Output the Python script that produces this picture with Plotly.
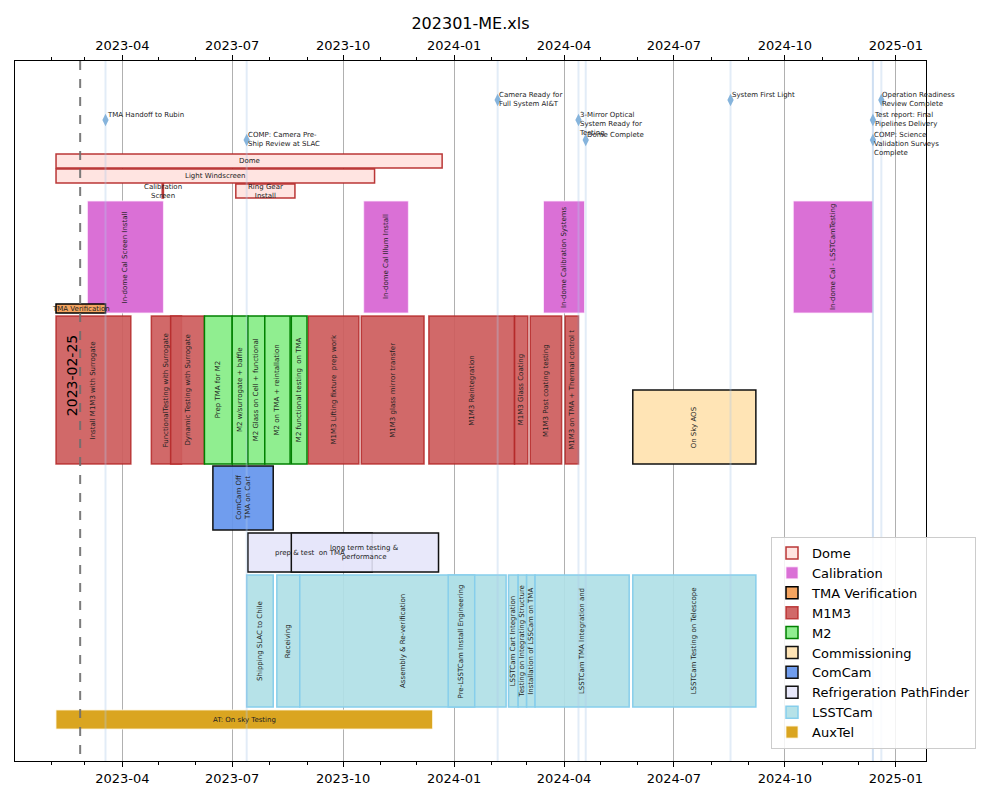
import pandas as pd
import plotly.graph_objects as go

# ---------------- data ----------------
categories = ["Dome", "Calibration", "TMA Verification", "M1M3", "M2",
              "Commissioning", "ComCam", "Refrigeration PathFinder", "LSSTCam", "AuxTel"]

dome_names = ["Dome", "Light Windscreen", "Calibration<br>Screen", "Ring Gear<br>Install"]
dome_start = ["2023-02-05", "2023-02-05", "2023-05-04", "2023-07-04"]
dome_end = ["2023-12-22", "2023-10-27", "2023-05-05", "2023-08-22"]
dome_lane = ["dome1", "dome2", "dome3", "dome3"]

cal_names = ["In-dome Cal Screen Install", "In-dome Cal Illum Install",
             "In-dome Calibration Systems", "In-dome Cal - LSSTCamTesting"]
cal_start = ["2023-03-03", "2023-10-18", "2024-03-15", "2024-10-08"]
cal_end = ["2023-05-05", "2023-11-24", "2024-04-18", "2024-12-13"]
cal_lane = ["cal", "cal", "cal", "cal"]

tma_names = ["TMA Verification"]
tma_start = ["2023-02-05"]
tma_end = ["2023-03-18"]
tma_lane = ["tma"]

m1m3_names = ["Install M1M3 with Surrogate", "FunctionalTesting with Surrogate",
              "Dynamic Testing with Surrogate", "M1M3 Lifting fixture  prep work",
              "M1M3 glass mirror transfer", "M1M3 Reintegration", "M1M3 Glass Coating",
              "M1M3 Post coating testing", "M1M3 on TMA + Thermal control t"]
m1m3_start = ["2023-02-05", "2023-04-25", "2023-05-11", "2023-09-02", "2023-10-16",
              "2023-12-11", "2024-02-20", "2024-03-04", "2024-04-02"]
m1m3_end = ["2023-04-08", "2023-05-20", "2023-06-08", "2023-10-14", "2023-12-07",
            "2024-02-20", "2024-03-02", "2024-03-30", "2024-04-13"]
m1m3_lane = ["main"] * 9

m2_names = ["Prep TMA for M2", "M2 w/surrogate + baffle", "M2 Glass on Cell + functional",
            "M2 on TMA + reintallation", "M2 functional testing  on TMA"]
m2_start = ["2023-06-08", "2023-07-01", "2023-07-14", "2023-07-28", "2023-08-19"]
m2_end = ["2023-07-01", "2023-07-14", "2023-07-28", "2023-08-18", "2023-09-01"]
m2_lane = ["main"] * 5

comm_names = ["On Sky AOS"]
comm_start = ["2024-05-28"]
comm_end = ["2024-09-07"]
comm_lane = ["comm"]

comcam_names = ["ComCam Off<br>TMA on Cart"]
comcam_start = ["2023-06-15"]
comcam_end = ["2023-08-04"]
comcam_lane = ["comcam"]

refr_names = ["prep & test  on TMA", "long term testing &<br>performance"]
refr_start = ["2023-07-14", "2023-08-19"]
refr_end = ["2023-10-25", "2023-12-19"]
refr_lane = ["refr", "refr"]

lsst_names = ["Shipping SLAC to Chile", "Receiving", "Assembly & Re-verification",
              "Pre-LSSTCam Install Engineering", "LSSTCam Cart Integration",
              "Testing on Integrating Structure", "Installation of LSSCam on TMA",
              "LSSTCam TMA Integration and", "LSSTCam Testing on Telescope"]
lsst_start = ["2023-07-13", "2023-08-07", "2023-08-26", "2023-12-27", "2024-02-15",
              "2024-02-23", "2024-03-01", "2024-03-08", "2024-05-28"]
lsst_end = ["2023-08-04", "2023-08-26", "2024-02-13", "2024-01-18", "2024-02-23",
            "2024-03-01", "2024-03-08", "2024-05-25", "2024-09-07"]
lsst_lane = ["lsst"] * 9

aux_names = ["AT: On sky Testing"]
aux_start = ["2023-02-05"]
aux_end = ["2023-12-14"]
aux_lane = ["aux"]

milestone_names = ["TMA Handoff to Rubin", "COMP: Camera Pre-<br>Ship Review at SLAC",
                   "Camera Ready for<br>Full System AI&T",
                   "3-Mirror Optical<br>System Ready for<br>Testing", "Dome Complete",
                   "System First Light", "Operation Readiness<br>Review Complete",
                   "Test report: Final<br>Pipelines Delivery",
                   "COMP: Science<br>Validation Surveys<br>Complete"]
milestone_dates = ["2023-03-18", "2023-07-13", "2024-02-06", "2024-04-13", "2024-04-19",
                   "2024-08-17", "2024-12-20", "2024-12-13", "2024-12-13"]
milestone_level = [1, 2, 0, 1, 2, 0, 0, 1, 2]

today_date = "2023-02-25"

# ---------------- layout / style ----------------
X_RANGE = ["2023-01-02", "2025-01-26"]
Y_MAX = 700
lanes = {  # (top, bottom) in plot units from the top
    "dome1": (93, 107), "dome2": (108, 122), "dome3": (123, 137),
    "cal": (140, 252), "tma": (243, 252), "main": (255, 403), "comm": (329, 403),
    "comcam": (405, 469), "refr": (472, 511), "lsst": (514, 646), "aux": (649, 668),
}
milestone_y = [39, 59, 79]

style = {
    "Dome": ("#ffe4e1", "rgba(178,34,34,0.9)", 1.5, False),
    "Calibration": ("#da70d6", "rgba(255,235,255,0.8)", 1, True),
    "TMA Verification": ("#f4a460", "black", 1.5, False),
    "M1M3": ("rgba(205,92,92,0.92)", "rgba(178,34,34,0.8)", 1.5, True),
    "M2": ("#90ee90", "#008000", 1.5, True),
    "Commissioning": ("#ffe4b5", "#111111", 1.5, True),
    "ComCam": ("rgba(100,149,237,0.92)", "#111111", 1.5, True),
    "Refrigeration PathFinder": ("rgba(230,230,250,0.9)", "#111111", 1.5, False),
    "LSSTCam": ("rgba(176,224,230,0.92)", "#87ceeb", 1.5, True),
    "AuxTel": ("#daa520", "rgba(255,245,220,0.8)", 1, False),
}

tasks = {
    "Dome": (dome_names, dome_start, dome_end, dome_lane),
    "Calibration": (cal_names, cal_start, cal_end, cal_lane),
    "TMA Verification": (tma_names, tma_start, tma_end, tma_lane),
    "M1M3": (m1m3_names, m1m3_start, m1m3_end, m1m3_lane),
    "M2": (m2_names, m2_start, m2_end, m2_lane),
    "Commissioning": (comm_names, comm_start, comm_end, comm_lane),
    "ComCam": (comcam_names, comcam_start, comcam_end, comcam_lane),
    "Refrigeration PathFinder": (refr_names, refr_start, refr_end, refr_lane),
    "LSSTCam": (lsst_names, lsst_start, lsst_end, lsst_lane),
    "AuxTel": (aux_names, aux_start, aux_end, aux_lane),
}

FONT = "DejaVu Sans"
fig = go.Figure()

# milestone vertical lines (behind bars)
mx, my = [], []
for d in milestone_dates:
    mx += [d, d, None]
    my += [0, Y_MAX, None]
fig.add_trace(go.Scatter(x=mx, y=my, mode="lines",
                         line=dict(color="rgba(173,200,232,0.35)", width=2),
                         showlegend=False, hoverinfo="skip"))

annotations = []
for cat in categories:
    names, starts, ends, lane = tasks[cat]
    fill, edge, lw, rot = style[cat]
    ys, ws, bases, durs = [], [], [], []
    for n, s, e, ln in zip(names, starts, ends, lane):
        top, bot = lanes[ln]
        ts, te = pd.Timestamp(s), pd.Timestamp(e)
        ys.append((top + bot) / 2)
        ws.append(bot - top)
        bases.append(s)
        durs.append((te - ts).total_seconds() * 1000)
        mid = ts + (te - ts) / 2
        annotations.append(dict(x=mid, y=(top + bot) / 2, xref="x", yref="y",
                                text=n, showarrow=False, textangle=-90 if rot else 0,
                                font=dict(size=7, color="#222222", family=FONT),
                                xanchor="center", yanchor="middle"))
    fig.add_trace(go.Bar(orientation="h", y=ys, x=durs, base=bases, width=ws,
                         name=cat,
                         marker=dict(color=fill, line=dict(color=edge, width=lw)),
                         hoverinfo="name"))

# today line
fig.add_trace(go.Scatter(x=[today_date, today_date], y=[0, Y_MAX], mode="lines",
                         line=dict(color="rgba(110,110,110,0.9)", width=2, dash="dash"),
                         showlegend=False, hoverinfo="skip"))
annotations.append(dict(x=today_date, y=315, xref="x", yref="y", text=today_date,
                        showarrow=False, textangle=-90, xshift=-8,
                        font=dict(size=14, color="black", family=FONT)))

# milestone markers (on top axis, which matches the bottom one)
fig.add_trace(go.Scatter(x=milestone_dates, y=[milestone_y[l] for l in milestone_level],
                         mode="markers", xaxis="x2",
                         marker=dict(symbol="diamond-tall", size=9, color="#86b4dc",
                                     line=dict(width=0)),
                         showlegend=False, hovertext=milestone_names, hoverinfo="text"))
for n, d, l in zip(milestone_names, milestone_dates, milestone_level):
    annotations.append(dict(x=d, y=milestone_y[l], xref="x", yref="y", text=n,
                            showarrow=False, xanchor="left", yanchor="top", align="left",
                            xshift=-1, yshift=11,
                            font=dict(size=7, color="#222222", family=FONT)))

axis_common = dict(type="date", tick0="2023-01-01", dtick="M3", tickformat="%Y-%m",
                   ticks="outside", ticklen=5, tickcolor="black",
                   tickfont=dict(size=13, color="black", family=FONT),
                   showline=True, linecolor="black", linewidth=1,
                   minor=dict(dtick="M1", ticks="outside", ticklen=3, tickcolor="black",
                              showgrid=False))

fig.update_layout(
    width=1000, height=800,
    margin=dict(l=15, r=74, t=61, b=39),
    paper_bgcolor="white", plot_bgcolor="white",
    font=dict(family=FONT, color="black"),
    barmode="overlay",
    title=dict(text="202301-ME.xls", x=0.5, xref="paper", xanchor="center",
               y=1 - 23 / 800, yref="container", yanchor="middle",
               font=dict(size=16, color="black", family=FONT)),
    xaxis=dict(range=X_RANGE, showgrid=True, gridcolor="#b0b0b0", gridwidth=1,
               mirror=True, layer="above traces", **axis_common),
    xaxis2=dict(overlaying="x", side="top", matches="x", showgrid=False,
                layer="above traces", **axis_common),
    yaxis=dict(range=[Y_MAX, 0], showticklabels=False, ticks="", showgrid=False,
               zeroline=False, showline=True, mirror=True, linecolor="black"),
    legend=dict(x=(771 - 15) / 911, y=(761 - 749) / 700, xanchor="left", yanchor="bottom",
                bgcolor="rgba(255,255,255,0.85)", bordercolor="#cccccc", borderwidth=1,
                font=dict(size=13, color="black", family=FONT), traceorder="normal",
                itemwidth=30, tracegroupgap=0),
    annotations=annotations,
    showlegend=True,
)

fig.write_html("out.html", config={"displayModeBar": False},
               post_script="document.body.style.margin='0';")
